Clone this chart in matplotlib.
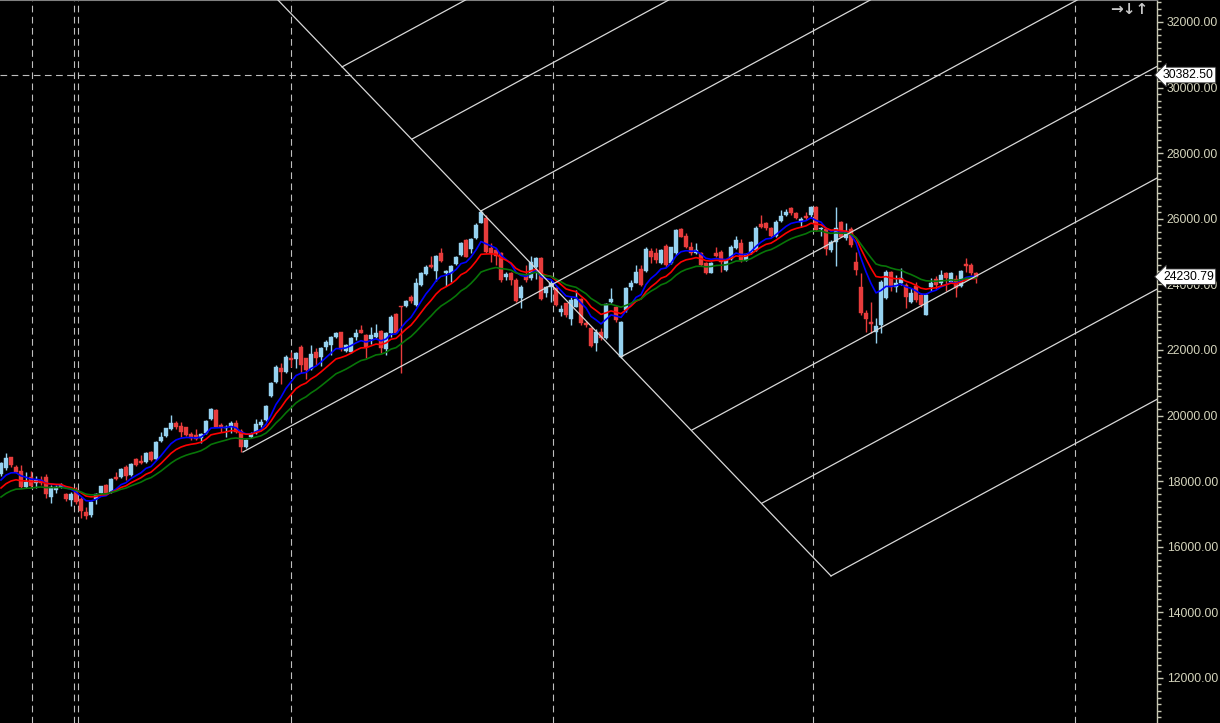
import matplotlib
matplotlib.use("Agg")
import matplotlib.pyplot as plt
import matplotlib.transforms as mtransforms
from matplotlib.ticker import MultipleLocator, FormatStrFormatter

# weekly OHLC (one row per candle)
opens = [
    18218, 18401, 18736, 18431, 18309, 17822, 18126, 17944, 18035, 18126,
    17517, 17730, 17822, 17608, 17425, 17730, 17456, 17059, 16968, 17456,
    17639, 17883, 17669, 18126, 18126, 18431, 18187, 18675, 18614, 18584,
    18889, 18675, 19224, 19376, 19590, 19773, 19681, 19651, 19437, 19407,
    19315, 19468, 19895, 20169, 19712, 19620, 19651, 19773, 19529, 19041,
    19346, 19468, 19712, 19864, 20596, 21023, 21450, 21328, 21755, 21724,
    22090, 21755, 21419, 21938, 21785, 22090, 22151, 22395, 22547, 21968,
    21938, 22395, 22608, 22456, 22334, 22395, 22578, 22029, 22517, 23096,
    23340, 23340, 23614, 23371, 23981, 24316, 24590, 24408, 24956, 24347,
    24347, 24621, 24895, 25352, 25078, 25413, 25871, 26023, 25109, 25048,
    24956, 24224, 24347, 24133, 23584, 24255, 24194, 24529, 24804, 23737,
    23920, 23889, 23157, 23432, 22943, 23310, 23553, 22821, 22669, 22212,
    22547, 22364, 23462, 23310, 21786, 23218, 23920, 24042, 24468, 24408,
    25017, 24956, 24651, 25170, 24651, 24956, 25688, 25474, 25139, 24956,
    24956, 24651, 24347, 24956, 24987, 24438, 24773, 25109, 25261, 24743,
    24956, 25048, 25840, 25871, 25718, 25474, 25932, 26114, 26328, 26176,
    25901, 26084, 26114, 26358, 25688, 25688, 25048, 25291, 25901, 25413,
    25688, 24682, 23920, 23126, 22852, 22547, 22760, 23584, 24377, 23920,
    24042, 23981, 23462, 23950, 23676, 23066, 23920, 24163, 24042, 24347,
    24072, 24163, 23950, 24621, 24590, 24347,
]
highs = [
    18584, 18858, 18736, 18492, 18492, 18279, 18309, 18157, 18157, 18218,
    17883, 17883, 17944, 17639, 17669, 17822, 17517, 17212, 17395, 17639,
    17852, 17913, 18096, 18279, 18401, 18492, 18554, 18706, 18797, 18889,
    18919, 19224, 19498, 19620, 20017, 19834, 19803, 19651, 19498, 19590,
    19468, 19864, 20230, 20200, 19773, 19712, 19834, 19864, 19590, 19285,
    19498, 19895, 19895, 20322, 21023, 21541, 21602, 21846, 21938, 21938,
    22151, 21755, 22151, 22060, 22090, 22303, 22425, 22547, 22547, 22181,
    22395, 22639, 22761, 22486, 22700, 22791, 22608, 22547, 23065, 23126,
    23340, 23523, 23675, 24194, 24377, 24590, 24865, 24895, 25109, 24438,
    24590, 24865, 25291, 25382, 25413, 25871, 26267, 26114, 25261, 25109,
    24987, 24377, 24377, 24194, 23981, 24590, 24865, 24834, 24834, 23950,
    24133, 23920, 23371, 23432, 23614, 23828, 23584, 22882, 22699, 22639,
    22669, 23432, 23889, 23340, 22882, 23920, 24133, 24590, 24590, 25139,
    25109, 25109, 25078, 25230, 25139, 25688, 25718, 25566, 25291, 25261,
    24987, 24682, 24682, 25139, 25048, 24773, 25200, 25474, 25382, 24956,
    25322, 25779, 26114, 25901, 25749, 25962, 26267, 26297, 26358, 26206,
    26053, 26206, 26389, 26389, 25749, 25718, 25352, 26358, 25932, 25871,
    25749, 24987, 24347, 23218, 23462, 22974, 24133, 24438, 24408, 24285,
    24499, 24042, 23889, 24072, 23736, 23736, 24194, 24255, 24438, 24377,
    24377, 24285, 24438, 24804, 24651, 24377,
]
lows = [
    18157, 18340, 18431, 18248, 17791, 17791, 17791, 17791, 17883, 17486,
    17334, 17639, 17791, 17395, 17242, 17303, 16876, 16846, 16907, 17303,
    17608, 17608, 17639, 18035, 18096, 18035, 18157, 18462, 18523, 18554,
    18614, 18645, 19193, 19346, 19559, 19590, 19346, 19376, 19254, 19254,
    19163, 19437, 19864, 19651, 19498, 19346, 19468, 19468, 18889, 19010,
    19315, 19437, 19651, 19834, 20565, 20992, 20962, 21297, 21480, 21450,
    21297, 21114, 21389, 21541, 21511, 21999, 21846, 22364, 21968, 21938,
    21907, 22303, 22517, 21755, 22181, 22364, 21907, 21846, 22395, 22517,
    21297, 23309, 23431, 23340, 23950, 24286, 24499, 24103, 24682, 23950,
    24072, 24590, 24865, 24834, 24956, 25382, 25871, 24956, 24682, 24590,
    24072, 24133, 23981, 23462, 23279, 24072, 24133, 24164, 23523, 23614,
    23462, 23340, 23035, 23004, 22760, 23310, 22760, 22699, 22090, 21968,
    22303, 22334, 23432, 22852, 21755, 23157, 23828, 24042, 23950, 24377,
    24651, 24651, 24621, 24529, 24621, 24895, 25444, 25109, 24895, 24926,
    24560, 24316, 24347, 24834, 24377, 24408, 24743, 25078, 24682, 24712,
    24926, 25017, 25718, 25657, 25444, 25444, 25901, 26084, 26114, 25993,
    25749, 25962, 26053, 25627, 25474, 24895, 24987, 24560, 25444, 25352,
    25139, 24286, 23066, 22547, 22517, 22212, 22517, 23553, 23797, 23767,
    23981, 23279, 23432, 23462, 23310, 23066, 23798, 23859, 23981, 23798,
    24042, 23615, 23920, 24377, 24285, 24042,
]
closes = [
    18554, 18706, 18492, 18279, 17822, 17974, 17852, 18035, 17944, 17608,
    17822, 17822, 17883, 17456, 17608, 17364, 17090, 16937, 17364, 17608,
    17852, 17639, 18065, 18065, 18370, 18157, 18523, 18492, 18554, 18858,
    18645, 19193, 19346, 19620, 19773, 19651, 19498, 19407, 19315, 19285,
    19437, 19834, 20200, 19651, 19651, 19651, 19773, 19498, 19041, 19254,
    19437, 19742, 19803, 20291, 20992, 21480, 21328, 21785, 21694, 21907,
    21541, 21389, 21877, 21755, 22060, 22242, 22395, 22517, 22029, 22151,
    22364, 22517, 22517, 22090, 22456, 22517, 22060, 22517, 23004, 22517,
    23309, 23492, 23492, 24042, 24347, 24529, 24529, 24865, 24712, 24408,
    24560, 24834, 25261, 24834, 25382, 25809, 26206, 24987, 24956, 24865,
    24133, 24316, 24133, 23492, 23920, 24133, 24682, 24804, 23553, 23920,
    24042, 23371, 23249, 23066, 23523, 23553, 22821, 22760, 22120, 22547,
    22364, 23401, 23553, 22913, 22852, 23889, 24042, 24377, 23981, 25078,
    24834, 24743, 25048, 24590, 25139, 25657, 25444, 25139, 24956, 25048,
    24590, 24347, 24651, 24865, 24682, 24743, 25139, 25352, 24743, 24926,
    25291, 25718, 25749, 25718, 25474, 25901, 26084, 26206, 26176, 26023,
    25993, 26023, 26358, 25657, 25718, 25078, 25291, 25718, 25444, 25596,
    25200, 24438, 23126, 22943, 22791, 22730, 24072, 24377, 23920, 24042,
    24194, 23615, 23736, 23523, 23371, 23676, 24042, 23981, 24285, 24194,
    24347, 23889, 24408, 24560, 24347, 24230.79,
]

# exponential averages and where each one already sits at the first candle
ema_periods = [8, 13, 21]
ema_colors = ["#0000ff", "#ff0000", "#087508"]
ema_start = [18035, 17791, 17517]

# pitchfork-style drawing: a falling handle and rising parallels off it
handle_x = [54.0, 166.0]
handle_y = [32890, 15110]
fork_x = [48.4, 68.2, 82.2, 96.0, 124.0, 138.2, 152.2, 166.0]
fork_y = [18890, 30630, 28430, 26240, 21790, 19560, 17330, 15110]
fork_slope = 82.6  # price per bar

period_breaks = [6.2, 14.6, 15.4, 58.0, 110.4, 162.4, 214.8]
cross_price = 30382.50
last_price = 24230.79

UP = "#96d2f0"
DOWN = "#e83c3c"
AXIS = "#c8c8b4"
SCALE_FONT = "Liberation Sans"


def ema(values, period, start):
    k = 2.0 / (period + 1)
    out = [start]
    for v in values[1:]:
        out.append(out[-1] + k * (v - out[-1]))
    return out


fig = plt.figure(figsize=(12.2, 7.23), dpi=100, facecolor="black")
ax = fig.add_axes([0, 0, 1157 / 1220, 1.0])
ax.set_facecolor("black")

n = len(closes)
xs = list(range(n))
x_right = 231.2
ax.set_xlim(-0.2, x_right)
ax.set_ylim(10626, 32670)

# period separators and the crosshair price
for bx in period_breaks:
    ax.axvline(bx, color="#bfbfbf", lw=0.8, ls=(0, (6, 4)), zorder=1)
ax.axhline(cross_price, color="#bfbfbf", lw=0.8, ls=(0, (6, 4)), zorder=1)

# candles
for i in xs:
    o, h, l, c = opens[i], highs[i], lows[i], closes[i]
    col = UP if c >= o else DOWN
    ax.vlines(i, l, h, color=col, lw=1.0, zorder=3)
    body = max(abs(c - o), 25)
    ax.bar(i, body, bottom=min(o, c), width=0.7, color=col,
           edgecolor=col, linewidth=0.3, zorder=4)

for period, col, start in zip(ema_periods, ema_colors, ema_start):
    ax.plot(xs, ema(closes, period, start), color=col, lw=1.2, zorder=5)

# drawing objects
ax.plot(handle_x, handle_y, color="#d8d8d8", lw=0.9, zorder=6)
for fx, fy in zip(fork_x, fork_y):
    x_end = x_right + 2
    ax.plot([fx, x_end], [fy, fy + fork_slope * (x_end - fx)],
            color="#d8d8d8", lw=0.9, zorder=6)

# right price scale
for side in ["left", "bottom"]:
    ax.spines[side].set_visible(False)
ax.spines["right"].set_color(AXIS)
ax.spines["right"].set_linewidth(1.0)
ax.spines["top"].set_color("#808080")
ax.spines["top"].set_linewidth(1.5)
ax.xaxis.set_visible(False)
ax.yaxis.tick_right()
ax.yaxis.set_major_locator(MultipleLocator(2000))
ax.yaxis.set_minor_locator(MultipleLocator(200))
ax.yaxis.set_major_formatter(FormatStrFormatter("%.2f"))
ax.tick_params(axis="y", which="major", length=4, width=1, color=AXIS,
               labelcolor="#d4d4bc", labelsize=8.8, pad=3)
ax.tick_params(axis="y", which="minor", length=3, width=1, color=AXIS)
for lab in ax.get_yticklabels():
    lab.set_fontfamily(SCALE_FONT)

tag_tf = mtransforms.blended_transform_factory(ax.transAxes, ax.transData)
for price in [cross_price, last_price]:
    ax.text(1163 / 1157, price, f"{price:.2f}", transform=tag_tf, ha="left",
            va="center", fontsize=8.8, family=SCALE_FONT, color="black",
            zorder=10, clip_on=False,
            bbox=dict(boxstyle="larrow,pad=0.15", fc="white", ec="#333333",
                      lw=0.6))

fig.text(1110 / 1220, 1 - 10 / 723, "\u2192\u2193\u2191", color="#c8c8c8",
         fontsize=11, fontweight="bold", va="center", ha="left")

fig.savefig("out.png", dpi=100, facecolor="black")
